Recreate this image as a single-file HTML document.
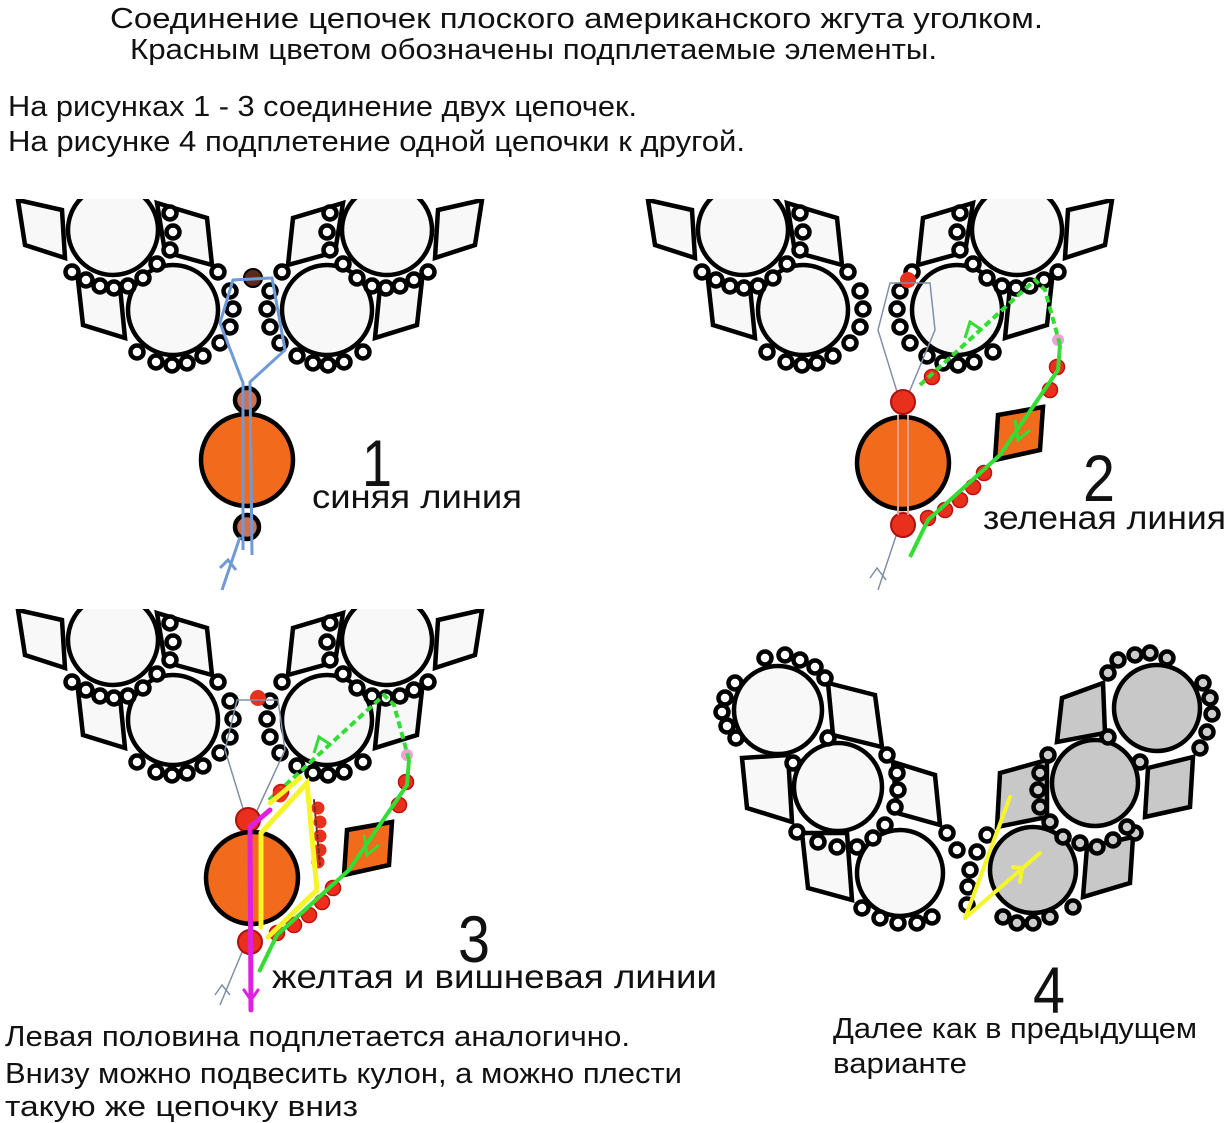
<!DOCTYPE html>
<html><head><meta charset="utf-8"><style>
html,body{margin:0;padding:0;background:#fff}
svg{display:block}
text{font-family:"Liberation Sans",sans-serif;fill:#111}
</style></head><body>
<svg width="1228" height="1123" viewBox="0 0 1228 1123" xmlns="http://www.w3.org/2000/svg">
<defs>
<clipPath id="c1"><rect x="0" y="199" width="600" height="500"/></clipPath>
<g id="half" stroke="#000" stroke-width="4.5" fill="#f8f8f8" stroke-linejoin="miter">
  <polygon points="18,200 62,210 65,258 25,245"/>
  <polygon points="157,203 207,218 212,265 165,252"/>
  <polygon points="78,280 120,287 125,338 83,325"/>
  <circle cx="113" cy="230" r="45"/>
  <circle cx="173" cy="310" r="45"/>
  <g fill="#fff" stroke-width="4.5">
    <circle cx="72" cy="272" r="6.5"/><circle cx="86" cy="280" r="6.5"/><circle cx="100" cy="286" r="6.5"/><circle cx="114" cy="288" r="6.5"/><circle cx="128" cy="286" r="6.5"/><circle cx="143" cy="278" r="6.5"/><circle cx="157" cy="264" r="6.5"/><circle cx="170" cy="250" r="6.5"/><circle cx="173" cy="232" r="6.5"/><circle cx="170" cy="213" r="6.5"/>
    <circle cx="218" cy="272" r="6.5"/><circle cx="230" cy="291" r="6.5"/><circle cx="233" cy="309" r="6.5"/><circle cx="230" cy="327" r="6.5"/><circle cx="220" cy="343" r="6.5"/><circle cx="203" cy="356" r="6.5"/><circle cx="187" cy="363" r="6.5"/><circle cx="172" cy="365" r="6.5"/><circle cx="156" cy="362" r="6.5"/><circle cx="137" cy="352" r="6.5"/>
  </g>
</g>
<g id="chain">
  <g clip-path="url(#c1)">
    <use href="#half"/>
    <use href="#half" transform="translate(500,0) scale(-1,1)"/>
  </g>
</g>
<g id="greenset">
  <polygon points="998,415 1043,407 1040,450 995,460" fill="#f26a1b" stroke="#000" stroke-width="4.5"/>
  <g fill="#e8301c" stroke="#c01010" stroke-width="1.5">
    <circle cx="928" cy="518" r="7.5"/><circle cx="945" cy="510" r="7.5"/><circle cx="960" cy="500" r="7.5"/><circle cx="973" cy="487" r="7.5"/><circle cx="984" cy="473" r="7.5"/>
    <circle cx="1050" cy="390" r="7.5"/><circle cx="1057" cy="367" r="7.5"/><circle cx="932" cy="377" r="7.5"/>
  </g>
  <circle cx="1058" cy="340" r="6" fill="#f0a0d8"/>
  <polyline points="910,557 928,520 1000,455 1058,370 1060,345" fill="none" stroke="#33dd33" stroke-width="4"/>
  <polyline points="1060,345 1045,290 1035,280 920,385" fill="none" stroke="#33dd33" stroke-width="4" stroke-dasharray="7,4"/>
  <polyline points="965,338 970,322 982,330" fill="none" stroke="#33dd33" stroke-width="3"/>
  <polyline points="1015,420 1018,440 1030,430" fill="none" stroke="#33dd33" stroke-width="3"/>
</g>
</defs>

<text x="110" y="28" font-size="29" textLength="933" lengthAdjust="spacingAndGlyphs">Соединение цепочек плоского американского жгута уголком.</text>
<text x="130" y="59" font-size="29" textLength="807" lengthAdjust="spacingAndGlyphs">Красным цветом обозначены подплетаемые элементы.</text>
<text x="8" y="116" font-size="29" textLength="629" lengthAdjust="spacingAndGlyphs">На рисунках 1 - 3 соединение двух цепочек.</text>
<text x="8" y="151" font-size="29" textLength="737" lengthAdjust="spacingAndGlyphs">На рисунке 4 подплетение одной цепочки к другой.</text>

<!-- FIG 1 -->
<use href="#chain"/>
<circle cx="253" cy="278" r="9" fill="#5a2a20" stroke="#000" stroke-width="2"/>
<circle cx="247" cy="400" r="12" fill="#d07050" stroke="#000" stroke-width="4.5"/>
<circle cx="247" cy="527" r="12" fill="#d07050" stroke="#000" stroke-width="4.5"/>
<circle cx="247" cy="460" r="46" fill="#f26a1b" stroke="#000" stroke-width="4.5"/>
<g fill="none" stroke="#6f9ad8" stroke-width="3">
  <polyline points="243,550 243,383 220,323 233,280 272,278 285,350 250,382 252,555"/>
  <polyline points="240,537 222,590"/>
  <polyline points="220,568 228,560 236,570"/>
</g>
<text x="362" y="486" font-size="66" textLength="30" lengthAdjust="spacingAndGlyphs">1</text>
<text x="312" y="508" font-size="33" textLength="210" lengthAdjust="spacingAndGlyphs">синяя линия</text>

<!-- FIG 2 -->
<use href="#chain" transform="translate(630,0)"/>
<circle cx="908" cy="280" r="8" fill="#e8301c"/>
<g fill="none" stroke="#8090a8" stroke-width="1.5">
  <polyline points="898,395 878,330 890,283 930,283 935,330 908,395"/>
  <polyline points="898,530 878,590"/><polyline points="870,578 877,568 886,580"/>
</g>
<circle cx="903" cy="402" r="12" fill="#e8301c" stroke="#b01010" stroke-width="2"/>
<circle cx="903" cy="525" r="12" fill="#e8301c" stroke="#b01010" stroke-width="2"/>
<circle cx="903" cy="463" r="46" fill="#f26a1b" stroke="#000" stroke-width="4.5"/>
<line x1="898" y1="415" x2="898" y2="515" stroke="#e0a090" stroke-width="2"/>
<line x1="908" y1="415" x2="908" y2="515" stroke="#e0a090" stroke-width="2"/>
<use href="#greenset"/>
<text x="1083" y="501" font-size="66" textLength="32" lengthAdjust="spacingAndGlyphs">2</text>
<text x="983" y="529" font-size="33" textLength="243" lengthAdjust="spacingAndGlyphs">зеленая линия</text>

<!-- FIG 3 -->
<use href="#chain" transform="translate(0,410)"/>
<rect x="0" y="600" width="520" height="7" fill="#fff"/>
<circle cx="258" cy="698" r="8" fill="#e8301c"/>
<g fill="none" stroke="#8090a8" stroke-width="1.5">
  <polyline points="245,815 225,750 237,700 278,700 285,750 255,815"/>
  <polyline points="245,945 220,1005"/><polyline points="215,995 222,985 230,995"/>
</g>
<circle cx="248" cy="820" r="12" fill="#e8301c" stroke="#b01010" stroke-width="2"/>
<circle cx="250" cy="942" r="12" fill="#e8301c" stroke="#b01010" stroke-width="2"/>
<circle cx="252" cy="878" r="46" fill="#f26a1b" stroke="#000" stroke-width="4.5"/>
<use href="#greenset" transform="translate(-651,415)"/>
<g fill="#e8301c"><circle cx="318" cy="808" r="6.5"/><circle cx="320" cy="822" r="6.5"/><circle cx="320" cy="836" r="6.5"/><circle cx="320" cy="850" r="6.5"/><circle cx="318" cy="862" r="6.5"/><circle cx="280" cy="795" r="7.5"/></g>
<g fill="none" stroke-linecap="round">
  <polyline points="261,927 261,833 307,783 317,890 268,937" stroke="#f5f528" stroke-width="5"/>
  <line x1="270" y1="803" x2="300" y2="778" stroke="#f5f528" stroke-width="5"/>
  <line x1="314" y1="800" x2="320" y2="865" stroke="#703020" stroke-width="2" stroke-dasharray="4,3"/>
  <polyline points="251,1010 250,827 270,810" stroke="#e020e0" stroke-width="5"/>
  <polyline points="244,990 251,1000 258,990" stroke="#e020e0" stroke-width="3"/>
</g>
<text x="458" y="962" font-size="66" textLength="32" lengthAdjust="spacingAndGlyphs">3</text>
<text x="272" y="988" font-size="33" textLength="445" lengthAdjust="spacingAndGlyphs">желтая и вишневая линии</text>

<!-- FIG 4 -->
<g stroke="#000" stroke-width="4.5" fill="#f8f8f8">
  <polygon points="828,683 875,695 882,747 833,735"/>
  <polygon points="742,758 788,755 792,822 747,808"/>
  <polygon points="893,762 935,775 940,825 897,813"/>
  <polygon points="802,833 847,833 852,900 808,888"/>
  <circle cx="778" cy="710" r="44"/><circle cx="838" cy="787" r="44"/><circle cx="900" cy="873" r="43"/>
  <g fill="#c8c8c8">
    <polygon points="1062,698 1103,683 1105,733 1057,742"/>
    <polygon points="1000,773 1047,760 1047,817 997,827"/>
    <polygon points="1148,768 1193,757 1190,807 1145,817"/>
    <polygon points="1087,847 1133,837 1130,883 1083,897"/>
    <circle cx="1157" cy="708" r="43"/><circle cx="1095" cy="783" r="43"/><circle cx="1033" cy="870" r="43"/>
  </g>
  <g fill="#fff" stroke-width="4.5">
    <circle cx="765" cy="658" r="6.5"/><circle cx="785" cy="655" r="6.5"/><circle cx="800" cy="660" r="6.5"/><circle cx="815" cy="667" r="6.5"/><circle cx="825" cy="678" r="6.5"/>
    <circle cx="735" cy="683" r="6.5"/><circle cx="725" cy="698" r="6.5"/><circle cx="722" cy="712" r="6.5"/><circle cx="727" cy="726" r="6.5"/><circle cx="736" cy="738" r="6.5"/>
    <circle cx="828" cy="738" r="6.5"/><circle cx="793" cy="763" r="6.5"/><circle cx="887" cy="755" r="6.5"/><circle cx="897" cy="773" r="6.5"/><circle cx="898" cy="790" r="6.5"/><circle cx="895" cy="807" r="6.5"/>
    <circle cx="797" cy="832" r="6.5"/><circle cx="818" cy="842" r="6.5"/><circle cx="837" cy="847" r="6.5"/><circle cx="857" cy="847" r="6.5"/><circle cx="873" cy="838" r="6.5"/><circle cx="885" cy="825" r="6.5"/>
    <circle cx="947" cy="833" r="6.5"/><circle cx="957" cy="850" r="6.5"/>
    <circle cx="862" cy="908" r="6.5"/><circle cx="880" cy="918" r="6.5"/><circle cx="898" cy="923" r="6.5"/><circle cx="917" cy="923" r="6.5"/><circle cx="932" cy="917" r="6.5"/>
    <circle cx="987" cy="835" r="6.5"/><circle cx="977" cy="852" r="6.5"/><circle cx="970" cy="870" r="6.5"/><circle cx="968" cy="887" r="6.5"/><circle cx="967" cy="905" r="6.5"/>
  </g>
  <g fill="#ccc" stroke-width="4.5">
    <circle cx="1118" cy="660" r="6.5"/><circle cx="1135" cy="655" r="6.5"/><circle cx="1150" cy="653" r="6.5"/><circle cx="1167" cy="658" r="6.5"/><circle cx="1108" cy="673" r="6.5"/>
    <circle cx="1203" cy="683" r="6.5"/><circle cx="1210" cy="698" r="6.5"/><circle cx="1212" cy="714" r="6.5"/><circle cx="1207" cy="732" r="6.5"/><circle cx="1200" cy="748" r="6.5"/>
    <circle cx="1108" cy="737" r="6.5"/><circle cx="1048" cy="755" r="6.5"/><circle cx="1040" cy="773" r="6.5"/><circle cx="1038" cy="790" r="6.5"/><circle cx="1040" cy="807" r="6.5"/><circle cx="1140" cy="762" r="6.5"/><circle cx="1135" cy="833" r="6.5"/>
    <circle cx="1050" cy="822" r="6.5"/><circle cx="1063" cy="837" r="6.5"/><circle cx="1080" cy="843" r="6.5"/><circle cx="1097" cy="847" r="6.5"/><circle cx="1113" cy="840" r="6.5"/><circle cx="1127" cy="827" r="6.5"/>
    <circle cx="1003" cy="917" r="6.5"/><circle cx="1017" cy="923" r="6.5"/><circle cx="1033" cy="923" r="6.5"/><circle cx="1050" cy="917" r="6.5"/><circle cx="1073" cy="907" r="6.5"/>
  </g>
</g>
<g fill="none" stroke="#f5f528" stroke-width="4" stroke-linecap="round">
  <line x1="965" y1="918" x2="1010" y2="797"/>
  <line x1="965" y1="918" x2="1040" y2="853"/>
  <polyline points="1013,867 1022,868 1020,882"/>
</g>
<text x="1033" y="1013" font-size="66" textLength="32" lengthAdjust="spacingAndGlyphs">4</text>
<text x="833" y="1038" font-size="29" textLength="364" lengthAdjust="spacingAndGlyphs">Далее как в предыдущем</text>
<text x="833" y="1073" font-size="29" textLength="134" lengthAdjust="spacingAndGlyphs">варианте</text>

<text x="5" y="1046" font-size="29" textLength="625" lengthAdjust="spacingAndGlyphs">Левая половина подплетается аналогично.</text>
<text x="5" y="1083" font-size="29" textLength="677" lengthAdjust="spacingAndGlyphs">Внизу можно подвесить кулон, а можно плести</text>
<text x="5" y="1116" font-size="29" textLength="353" lengthAdjust="spacingAndGlyphs">такую же цепочку вниз</text>
</svg>
</body></html>
